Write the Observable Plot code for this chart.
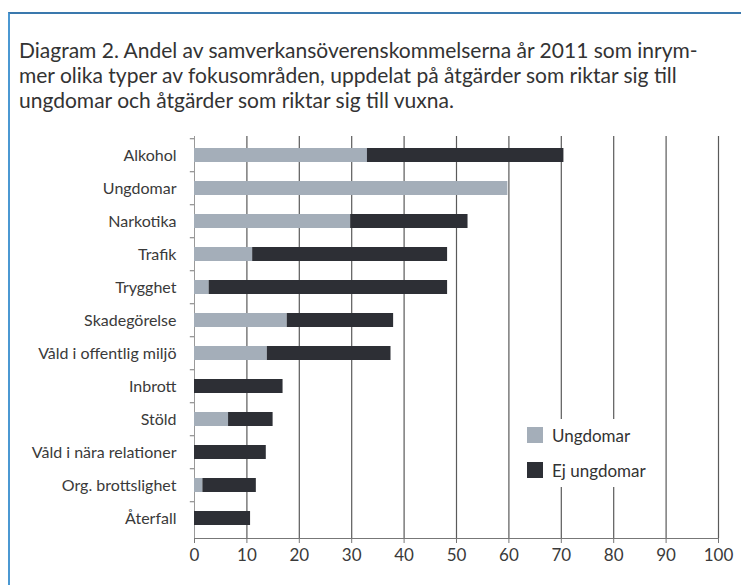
<!DOCTYPE html>
<html>
<head>
<meta charset="utf-8">
<script src="https://cdn.jsdelivr.net/npm/d3@7"></script>
<script src="https://cdn.jsdelivr.net/npm/@observablehq/plot@0.6"></script>
<style>
  html, body { margin: 0; padding: 0; background: #fff; }
  #page { position: relative; width: 741px; height: 585px; overflow: hidden; background: #fff; font-family: Lato, "DejaVu Sans", sans-serif; }
  #box { position: absolute; left: 8px; top: 12px; width: 760px; height: 600px; border-left: 2px solid #4b98d2; border-top: 2px solid #3a78ad; }
  #title { position: absolute; left: 19px; top: 37px; font-size: 21px; line-height: 25px; color: #333; white-space: nowrap; }
  #chart { position: absolute; left: 0; top: 110px; }
  #legend { position: absolute; left: 519px; top: 419px; width: 136px; height: 68px; background: #fff; font-size: 17px; color: #333; }
  .li { position: absolute; left: 8px; display: flex; align-items: center; height: 16px; }
  .sw { width: 16px; height: 16px; margin-right: 9px; }
</style>
</head>
<body>
<div id="page">
  <div id="box"></div>
  <div id="title">Diagram 2. Andel av samverkansöverenskommelserna år 2011 som inrym-<br>mer olika typer av fokusområden, uppdelat på åtgärder som riktar sig till<br>ungdomar och åtgärder som riktar sig till vuxna.</div>
  <div id="chart"></div>
  <div id="legend"></div>
</div>
<script>
const categories = ["Alkohol", "Ungdomar", "Narkotika", "Trafik", "Trygghet", "Skadegörelse",
  "Våld i offentlig miljö", "Inbrott", "Stöld", "Våld i nära relationer", "Org. brottslighet", "Återfall"];
const ungdomar   = [33.0, 59.8, 29.8, 11.1, 2.8, 17.7, 13.9, 0, 6.5, 0, 1.6, 0];
const ejUngdomar = [37.5, 0, 22.4, 37.2, 45.5, 20.3, 23.6, 16.9, 8.5, 13.7, 10.2, 10.7];
const seriesNames = ["Ungdomar", "Ej ungdomar"];
const seriesColors = ["#a4aeb9", "#2d2f35"];
const xTicks = [0, 10, 20, 30, 40, 50, 60, 70, 80, 90, 100];
const gridTicks = [10, 20, 30, 40, 50, 60, 70, 80, 90, 100];

const data = [];
categories.forEach((c, i) => {
  data.push({category: c, series: seriesNames[0], value: ungdomar[i]});
  data.push({category: c, series: seriesNames[1], value: ejUngdomar[i]});
});

const height = 475, marginTop = 26, marginBottom = 47;
const step = (height - marginTop - marginBottom) / categories.length;

const chart = Plot.plot({
  width: 741,
  height,
  marginLeft: 194,
  marginRight: 23,
  marginTop,
  marginBottom,
  style: {fontFamily: "Lato, sans-serif", color: "#3a3a3a", background: "transparent", overflow: "visible"},
  x: {domain: [0, 100]},
  y: {domain: categories, paddingInner: 0.57, paddingOuter: 0.285},
  color: {domain: seriesNames, range: seriesColors},
  marks: [
    Plot.ruleX(gridTicks, {stroke: "#5a5a5a", strokeWidth: 1.2}),
    Plot.ruleX([0], {stroke: "#9a9a9a", strokeWidth: 1}),
    Plot.ruleY(categories, {y: d => d, x1: -0.8, x2: 0, dy: -step / 2, stroke: "#777"}),
    Plot.barX(data, Plot.stackX({y: "category", x: "value", fill: "series", order: seriesNames})),
    Plot.frame({anchor: "bottom", stroke: "#777"}),
    Plot.axisX({ticks: xTicks, tickSize: 5, tickPadding: 5, fontSize: 17, label: null, stroke: "#777"}),
    Plot.axisY({tickSize: 0, tickPadding: 18, fontSize: 16, label: null})
  ]
});
document.getElementById("chart").appendChild(chart);

const legend = document.getElementById("legend");
seriesNames.forEach((name, i) => {
  const item = document.createElement("div");
  item.className = "li";
  item.style.top = (8 + i * 35) + "px";
  const sw = document.createElement("div");
  sw.className = "sw";
  sw.style.background = seriesColors[i];
  const t = document.createElement("span");
  t.textContent = name;
  item.appendChild(sw);
  item.appendChild(t);
  legend.appendChild(item);
});
</script>
</body>
</html>
